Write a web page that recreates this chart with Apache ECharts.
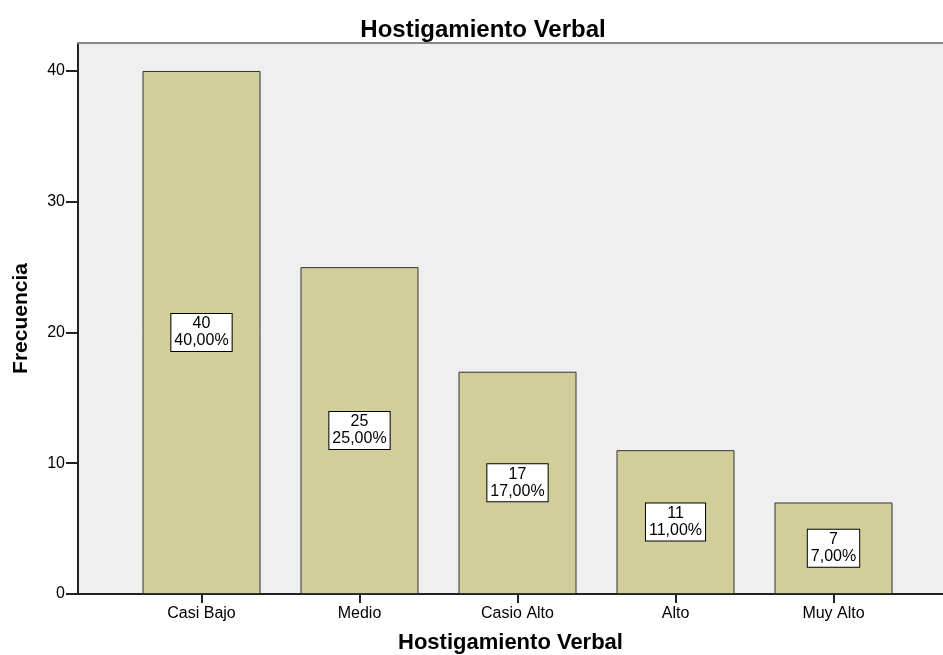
<!DOCTYPE html>
<html>
<head>
<meta charset="utf-8">
<script src="https://cdn.jsdelivr.net/npm/echarts@6/dist/echarts.min.js"></script>
<style>
  html, body { margin: 0; padding: 0; background: #fff; }
  #chart { width: 943px; height: 655px; }
</style>
</head>
<body>
<div id="chart"></div>
<script>
// data
var categories = ['Casi Bajo', 'Medio', 'Casio Alto', 'Alto', 'Muy Alto'];
var frecuencia = [40, 25, 17, 11, 7];
var yTicks = [0, 10, 20, 30, 40];

var total = frecuencia.reduce(function (a, b) { return a + b; }, 0);
var fontFam = '"Liberation Sans", Arial, sans-serif';
var yMax = 42.14;

var chart = echarts.init(document.getElementById('chart'));
chart.setOption({
  backgroundColor: '#fff',
  animation: false,
  title: {
    text: 'Hostigamiento Verbal',
    left: 478,
    textAlign: 'center',
    top: 13,
    textStyle: { fontFamily: fontFam, fontSize: 24, fontWeight: 'bold', color: '#000' }
  },
  grid: [
    // plot frame / background
    { left: 78, top: 43, right: 0, bottom: 61, show: true, backgroundColor: '#efefef', borderWidth: 0, outerBoundsMode: 'none', containLabel: false },
    // bars
    { left: 122.5, top: 43, right: 30.5, bottom: 61, outerBoundsMode: 'none', containLabel: false }
  ],
  xAxis: [
    {
      gridIndex: 0, type: 'value', min: 0, max: 1, position: 'bottom',
      axisLine: { show: true, onZero: false, lineStyle: { color: '#222', width: 2 } },
      axisTick: { show: false }, axisLabel: { show: false }, splitLine: { show: false },
      name: 'Hostigamiento Verbal', nameLocation: 'middle', nameGap: 38,
      nameTextStyle: { fontFamily: fontFam, fontSize: 22, fontWeight: 'bold', color: '#000' }
    },
    {
      gridIndex: 0, type: 'value', min: 0, max: 1, position: 'top',
      axisLine: { show: true, onZero: false, lineStyle: { color: '#888', width: 2 } },
      axisTick: { show: false }, axisLabel: { show: false }, splitLine: { show: false }
    },
    {
      gridIndex: 1, type: 'category', data: categories,
      axisLine: { show: false },
      axisTick: { show: true, alignWithLabel: true, length: 9, lineStyle: { color: '#222', width: 2 } },
      axisLabel: { fontFamily: fontFam, fontSize: 16, color: '#000', margin: 12 },
      splitLine: { show: false }
    }
  ],
  yAxis: [
    {
      gridIndex: 0, type: 'value', min: 0, max: yMax,
      axisLine: { show: true, onZero: false, lineStyle: { color: '#222', width: 2 } },
      axisTick: { show: true, length: 12, customValues: yTicks, lineStyle: { color: '#222', width: 2 } },
      axisLabel: { customValues: yTicks, fontFamily: fontFam, fontSize: 16, color: '#000', margin: 13 },
      splitLine: { show: false },
      name: 'Frecuencia', nameLocation: 'middle', nameGap: 46,
      nameTextStyle: { fontFamily: fontFam, fontSize: 21, fontWeight: 'bold', color: '#000' }
    },
    { gridIndex: 1, type: 'value', min: 0, max: yMax, show: false }
  ],
  series: [
    {
      type: 'bar',
      xAxisIndex: 2,
      yAxisIndex: 1,
      data: frecuencia,
      barWidth: 118,
      itemStyle: { color: '#d2ce9a', borderColor: '#333', borderWidth: 1 },
      label: {
        show: true,
        position: 'inside',
        formatter: function (p) {
          return p.value + '\n' + (p.value / total * 100).toFixed(2).replace('.', ',') + '%';
        },
        fontFamily: fontFam,
        fontSize: 16,
        lineHeight: 17,
        color: '#000',
        align: 'center',
        backgroundColor: '#fff',
        borderColor: '#000',
        borderWidth: 1,
        padding: [2, 3, 1, 3]
      }
    }
  ]
});
</script>
</body>
</html>
